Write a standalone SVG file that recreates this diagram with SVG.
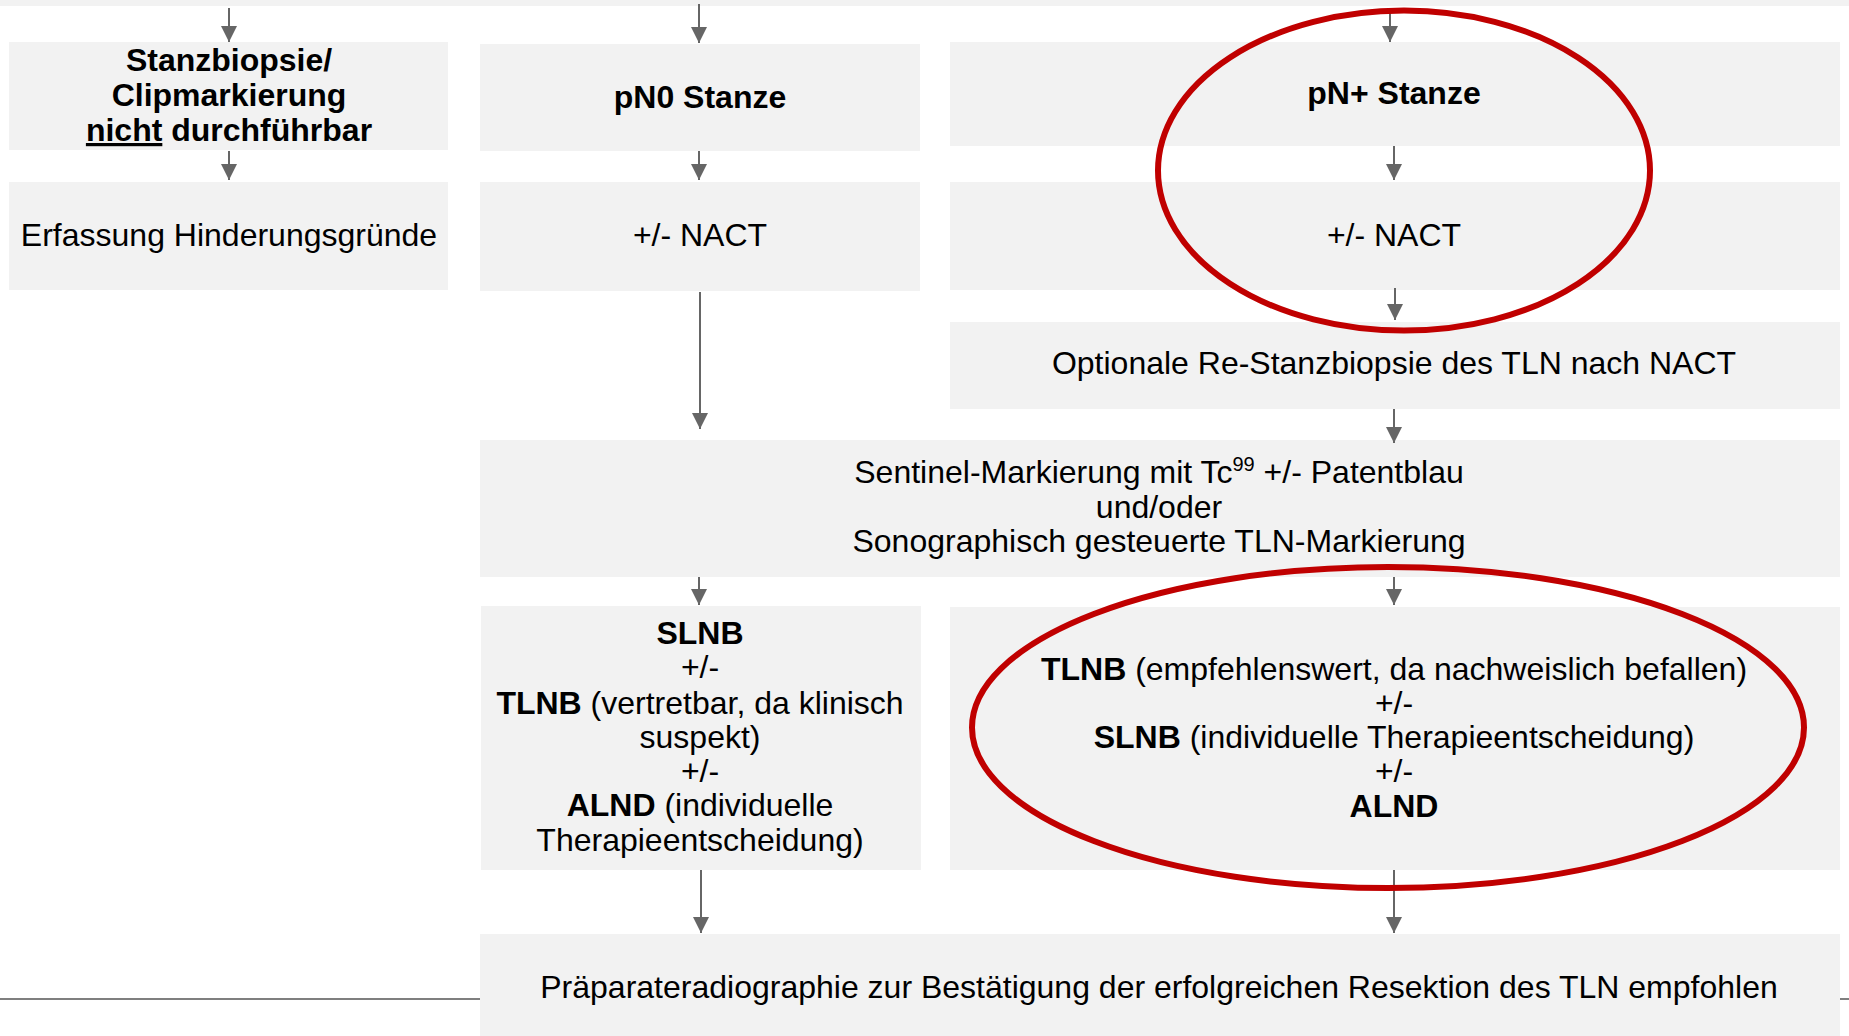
<svg xmlns="http://www.w3.org/2000/svg" width="1849" height="1036" viewBox="0 0 1849 1036">
<defs>
<marker id="ah" viewBox="0 0 16 16" refX="16" refY="8" markerWidth="16" markerHeight="16" markerUnits="userSpaceOnUse" orient="auto">
<path d="M0,0 L16,8 L0,16 Z" fill="#666666"/>
</marker>
</defs>
<style>
.box{fill:#F2F2F2}
.t{font-family:"Liberation Sans",Arial,sans-serif;font-size:32px;fill:#000;text-anchor:middle}
.b{font-weight:bold}
.c{stroke:#666666;stroke-width:2;fill:none;marker-end:url(#ah)}
.red{fill:none;stroke:#C00000;stroke-width:6}
</style>
<rect class="box" x="0" y="0" width="1849" height="6"/>
<line x1="0" y1="999" x2="1849" y2="999" stroke="#7F7F7F" stroke-width="2"/>
<g id="n-stanzbiopsie">
<rect class="box" x="9" y="42" width="439" height="108"/>
<text class="t b" x="229" y="71">Stanzbiopsie/</text>
<text class="t b" x="229" y="106">Clipmarkierung</text>
<text class="t b" x="229" y="141"><tspan text-decoration="underline">nicht</tspan> durchführbar</text>
</g>
<g id="n-erfassung">
<rect class="box" x="9" y="182" width="439" height="108"/>
<text class="t" x="229" y="246">Erfassung Hinderungsgründe</text>
</g>
<g id="n-pn0">
<rect class="box" x="480" y="44" width="440" height="107"/>
<text class="t b" x="700" y="108">pN0 Stanze</text>
</g>
<g id="n-nact1">
<rect class="box" x="480" y="182" width="440" height="109"/>
<text class="t" x="700" y="246">+/- NACT</text>
</g>
<g id="n-pnplus">
<rect class="box" x="950" y="42" width="890" height="104"/>
<text class="t b" x="1394" y="104">pN+ Stanze</text>
</g>
<g id="n-nact2">
<rect class="box" x="950" y="182" width="890" height="108"/>
<text class="t" x="1394" y="246">+/- NACT</text>
</g>
<g id="n-restanz">
<rect class="box" x="950" y="322" width="890" height="87"/>
<text class="t" x="1394" y="374">Optionale Re-Stanzbiopsie des TLN nach NACT</text>
</g>
<g id="n-sentinel">
<rect class="box" x="480" y="440" width="1360" height="137"/>
<text class="t" x="1159" y="483">Sentinel-Markierung mit Tc<tspan font-size="20" dy="-12">99</tspan><tspan dy="12"> +/- Patentblau</tspan></text>
<text class="t" x="1159" y="518">und/oder</text>
<text class="t" x="1159" y="552">Sonographisch gesteuerte TLN-Markierung</text>
</g>
<g id="n-slnb">
<rect class="box" x="481" y="606" width="440" height="264"/>
<text class="t b" x="700" y="644">SLNB</text>
<text class="t" x="700" y="678">+/-</text>
<text class="t" x="700" y="714"><tspan font-weight="bold">TLNB</tspan> (vertretbar, da klinisch</text>
<text class="t" x="700" y="748">suspekt)</text>
<text class="t" x="700" y="782">+/-</text>
<text class="t" x="700" y="816"><tspan font-weight="bold">ALND</tspan> (individuelle</text>
<text class="t" x="700" y="851">Therapieentscheidung)</text>
</g>
<g id="n-tlnb">
<rect class="box" x="950" y="607" width="890" height="263"/>
<text class="t" x="1394" y="680"><tspan font-weight="bold">TLNB</tspan> (empfehlenswert, da nachweislich befallen)</text>
<text class="t" x="1394" y="714">+/-</text>
<text class="t" x="1394" y="748"><tspan font-weight="bold">SLNB</tspan> (individuelle Therapieentscheidung)</text>
<text class="t" x="1394" y="782">+/-</text>
<text class="t b" x="1394" y="817">ALND</text>
</g>
<g id="n-praeparat">
<rect class="box" x="480" y="934" width="1360" height="102"/>
<text class="t" x="1159" y="998">Präparateradiographie zur Bestätigung der erfolgreichen Resektion des TLN empfohlen</text>
</g>
<g id="connectors">
<line class="c" x1="229" y1="8" x2="229" y2="42"/>
<line class="c" x1="229" y1="151" x2="229" y2="180"/>
<line class="c" x1="699" y1="4" x2="699" y2="43"/>
<line class="c" x1="699" y1="151" x2="699" y2="180"/>
<line class="c" x1="700" y1="292" x2="700" y2="429"/>
<line class="c" x1="1390" y1="9" x2="1390" y2="42"/>
<line class="c" x1="1394" y1="146" x2="1394" y2="180"/>
<line class="c" x1="1395" y1="288" x2="1395" y2="320"/>
<line class="c" x1="1394" y1="409" x2="1394" y2="443"/>
<line class="c" x1="699" y1="577" x2="699" y2="605"/>
<line class="c" x1="1394" y1="577" x2="1394" y2="605"/>
<line class="c" x1="701" y1="870" x2="701" y2="933"/>
<line class="c" x1="1394" y1="870" x2="1394" y2="933"/>
</g>
<g id="highlights">
<ellipse class="red" cx="1404" cy="170.6" rx="246" ry="160"/>
<ellipse class="red" cx="1388" cy="727.5" rx="416" ry="160.5"/>
</g>
</svg>
